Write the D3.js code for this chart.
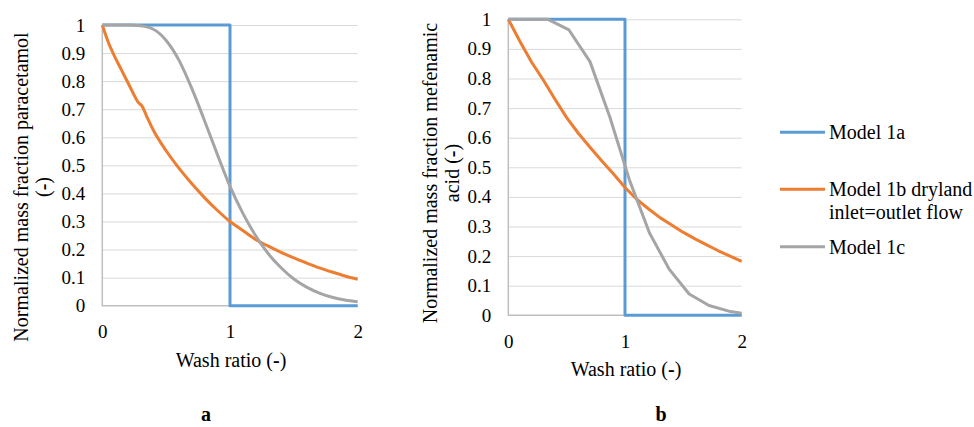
<!DOCTYPE html>
<meta charset="utf-8">
<head>
<style type='text/css'>
  body { margin: 0; background: #fff; }
  .grid line { stroke: #d9d9d9; stroke-width: 1; }
  .grid .domain { display: none; }
  .ticks .domain, .ticks line { display: none; }
  .axisline { stroke: #bfbfbf; stroke-width: 1.5; fill: none; }
  .series { fill: none; stroke-width: 3; stroke-linejoin: round; }
</style>
</head>
<body>
<svg id="chart" width="974" height="427"></svg>
<script src="https://d3js.org/d3.v7.min.js"></script>
<script>
// tick values shared by both panels
var yTicks = [0, 0.1, 0.2, 0.3, 0.4, 0.5, 0.6, 0.7, 0.8, 0.9, 1];
var xTicks = [0, 1, 2];

// Model 1a (ideal plug flow) - same in both panels
var wash1a = [0, 1, 1, 2];
var frac1a = [1, 1, 0, 0];

// panel a - paracetamol
var washA1b = [0, 0.05, 0.1, 0.15, 0.2, 0.25, 0.28, 0.31, 0.35, 0.4, 0.5, 0.6, 0.7, 0.8, 0.9, 1.0,
               1.1, 1.2, 1.3, 1.4, 1.5, 1.6, 1.7, 1.8, 1.9, 2.0];
var fracA1b = [1, 0.935, 0.885, 0.84, 0.795, 0.75, 0.725, 0.712, 0.672, 0.625, 0.552, 0.49, 0.435, 0.385, 0.34, 0.30,
               0.268, 0.236, 0.212, 0.19, 0.17, 0.152, 0.135, 0.12, 0.106, 0.094];
var washA1c = [0, 0.1, 0.2, 0.3, 0.4, 0.5, 0.6, 0.7, 0.8, 0.9, 1.0, 1.1, 1.2, 1.3, 1.4, 1.5, 1.6, 1.7, 1.8, 1.9, 2.0];
var fracA1c = [1, 1, 1, 0.997, 0.985, 0.945, 0.875, 0.775, 0.66, 0.54, 0.425, 0.33, 0.25, 0.185, 0.135, 0.095,
               0.066, 0.045, 0.03, 0.02, 0.014];

// panel b - mefenamic acid
var washB1b = [0, 0.1, 0.2, 0.3, 0.4, 0.5, 0.6, 0.7, 0.8, 0.9, 1.0, 1.1, 1.2, 1.3, 1.4, 1.5, 1.6, 1.7, 1.8, 1.9, 2.0];
var fracB1b = [1, 0.925, 0.855, 0.795, 0.73, 0.668, 0.615, 0.568, 0.522, 0.478, 0.432, 0.392, 0.36, 0.33, 0.305,
               0.28, 0.258, 0.238, 0.218, 0.2, 0.182];
var washB1c = [0, 0.17, 0.34, 0.52, 0.7, 0.87, 1.04, 1.21, 1.38, 1.55, 1.72, 1.89, 2.0];
var fracB1c = [1, 1, 1, 0.964, 0.857, 0.67, 0.455, 0.278, 0.155, 0.072, 0.033, 0.014, 0.007];

var seriesNames = [["Model 1a"], ["Model 1b dryland", "inlet=outlet flow"], ["Model 1c"]];
var seriesColors = ["#5b9bd5", "#ed7d31", "#a5a5a5"];

// pick the first installed serif face (Times-like) by measuring text on a canvas
function pickFont(list) {
  var ctx = document.createElement("canvas").getContext("2d");
  var sample = "Wash ratio mmmWWWiii 0.123456789";
  function w(f) { ctx.font = "40px " + f; return ctx.measureText(sample).width; }
  var mono = w("monospace"), sans = w("sans-serif");
  for (var i = 0; i < list.length; i++) {
    var f = "'" + list[i] + "'";
    if (w(f + ", monospace") !== mono || w(f + ", sans-serif") !== sans) return f;
  }
  return "serif";
}
var serifFont = pickFont(["Liberation Serif", "Times New Roman", "Tinos", "Nimbus Roman", "DejaVu Serif", "Noto Serif"]);

var svg = d3.select("#chart").style("font-family", serifFont);
svg.append("rect").attr("width", 974).attr("height", 427).attr("fill", "#fff");

var panels = [
  { left: 102.3, right: 357.7, top: 25, bottom: 305.7,
    title: ["Normalized mass fraction paracetamol", "(-)"], titleX: 28, titleY: 187,
    letter: "a", letterX: 206,
    series: [[wash1a, frac1a], [washA1b, fracA1b], [washA1c, fracA1c]], smooth: true },
  { left: 508.3, right: 741.7, top: 19.3, bottom: 315.3,
    title: ["Normalized mass fraction mefenamic", "acid (-)"], titleX: 437, titleY: 173,
    letter: "b", letterX: 661,
    series: [[wash1a, frac1a], [washB1b, fracB1b], [washB1c, fracB1c]], smooth: false }
];

panels.forEach(function(p) {
  var x = d3.scaleLinear().domain([0, 2]).range([p.left, p.right]);
  var y = d3.scaleLinear().domain([0, 1]).range([p.bottom, p.top]);
  var g = svg.append("g");

  // horizontal gridlines
  g.append("g")
      .attr("class", "grid")
      .attr("transform", "translate(" + p.left + ",0)")
      .call(d3.axisLeft(y).tickValues(yTicks.slice(1)).tickSize(-(p.right - p.left)).tickFormat(""));

  // axis lines
  g.append("path").attr("class", "axisline")
      .attr("d", "M" + x(0) + "," + y(1) + "V" + y(0) + "H" + x(2));

  // tick labels
  g.append("g")
      .attr("class", "ticks")
      .attr("transform", "translate(" + (p.left - 10) + ",0)")
      .call(d3.axisLeft(y).tickValues(yTicks).tickSize(0).tickPadding(7).tickFormat(d3.format("~g")));
  g.append("g")
      .attr("class", "ticks")
      .attr("transform", "translate(0," + (p.bottom + 15) + ")")
      .call(d3.axisBottom(x).tickValues(xTicks).tickSize(0).tickPadding(4).tickFormat(d3.format("~g")));
  g.selectAll(".ticks")
      .attr("font-family", null)
      .attr("font-size", null);
  g.selectAll(".ticks text")
      .style("font-family", serifFont)
      .style("font-size", "19px")
      .attr("fill", "#000");

  // series
  p.series.forEach(function(s, i) {
    var pts = s[0].map(function(v, j) { return [v, s[1][j]]; });
    var line = d3.line()
        .x(function(d) { return x(d[0]); })
        .y(function(d) { return y(d[1]); })
        .curve(p.smooth && i > 0 ? d3.curveMonotoneX : d3.curveLinear);
    g.append("path")
        .datum(pts)
        .attr("class", "series")
        .attr("stroke", seriesColors[i])
        .attr("d", line);
  });

  // y axis title (two lines)
  var t = g.append("text")
      .attr("transform", "translate(" + p.titleX + "," + p.titleY + ") rotate(-90)")
      .attr("text-anchor", "middle")
      .style("font-family", serifFont)
      .style("font-size", "20px");
  p.title.forEach(function(line, i) {
    var ts = t.append("tspan").attr("x", 0).attr("y", i * 22);
    var k = line.indexOf("(-)");
    if (k < 0) { ts.text(line); return; }
    ts.append("tspan").text(line.slice(0, k) + "(");
    ts.append("tspan").attr("font-weight", "bold").text("-");
    ts.append("tspan").text(")");
  });

  // x axis title
  var xt = g.append("text")
      .attr("x", (p.left + p.right) / 2 + 1)
      .attr("y", p.bottom + 61)
      .attr("text-anchor", "middle")
      .style("font-family", serifFont)
      .style("font-size", "20px");
  xt.append("tspan").text("Wash ratio (");
  xt.append("tspan").attr("font-weight", "bold").text("-");
  xt.append("tspan").text(")");

  // panel letter
  g.append("text")
      .attr("x", p.letterX)
      .attr("y", 421)
      .attr("text-anchor", "middle")
      .attr("font-weight", "bold")
      .style("font-family", serifFont)
      .style("font-size", "20px")
      .text(p.letter);
});

// legend
var legendY = [132.3, 189.3, 246.7];
var legend = svg.append("g")
  .selectAll("g")
  .data(seriesNames)
  .enter().append("g")
    .attr("transform", function(d, i) { return "translate(780," + legendY[i] + ")"; });

legend.append("line")
    .attr("x1", 0).attr("x2", 45)
    .attr("stroke", function(d, i) { return seriesColors[i]; })
    .attr("stroke-width", 3);

legend.append("text")
    .attr("x", 49)
    .attr("y", 7)
    .style("font-family", serifFont)
    .style("font-size", "20px")
  .selectAll("tspan")
  .data(function(d) { return d; })
  .enter().append("tspan")
    .attr("x", 49)
    .attr("dy", function(d, i) { return i ? 23 : 0; })
    .text(function(d) { return d; });
</script>
</body>
